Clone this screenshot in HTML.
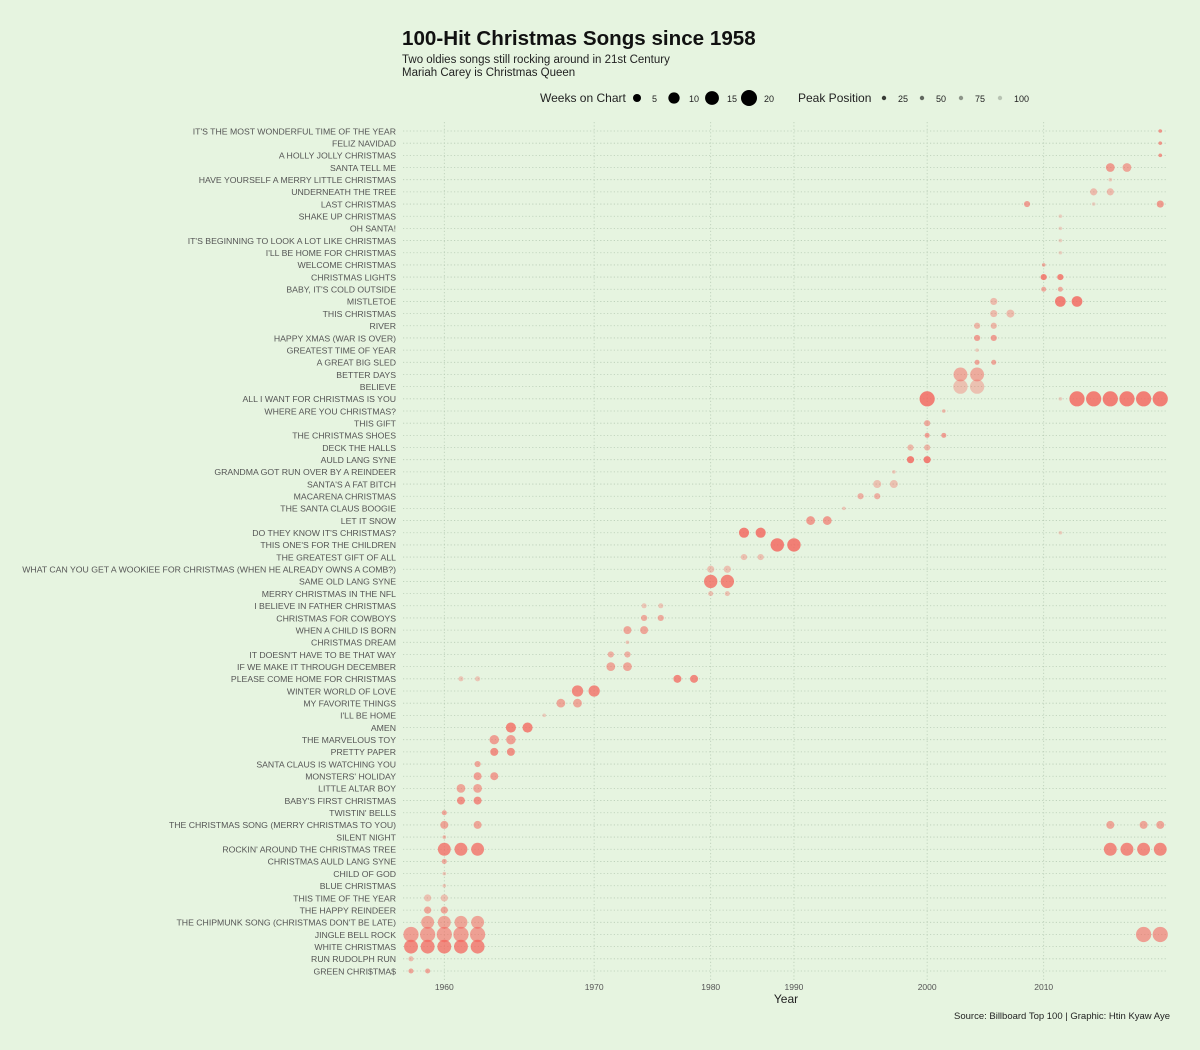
<!DOCTYPE html>
<html><head><meta charset="utf-8">
<style>
html,body{margin:0;padding:0;background:#e6f4e0;}
svg{display:block;font-family:"Liberation Sans",sans-serif;}
</style></head>
<body>
<svg id="chart" width="1200" height="1050" viewBox="0 0 1200 1050" xmlns="http://www.w3.org/2000/svg">
<rect x="0" y="0" width="1200" height="1050" fill="#e6f4e0"/>
<text x="402" y="45" font-size="20.6" font-weight="bold" fill="#111">100-Hit Christmas Songs since 1958</text>
<text x="402" y="63" font-size="11.5" fill="#222">Two oldies songs still rocking around in 21st Century</text>
<text x="402" y="76" font-size="11.5" fill="#222">Mariah Carey is Christmas Queen</text>
<g id="legend"></g>
<g id="grid"></g>
<g id="ylabels"></g>
<g id="xaxis"></g>
<g id="points"></g>
<text x="786" y="1003" font-size="12" fill="#222" text-anchor="middle">Year</text>
<text x="1170" y="1019" font-size="9.5" fill="#222" text-anchor="end">Source: Billboard Top 100 | Graphic: Htin Kyaw Aye</text>
</svg>
<script>
const songs = ["IT'S THE MOST WONDERFUL TIME OF THE YEAR","FELIZ NAVIDAD","A HOLLY JOLLY CHRISTMAS","SANTA TELL ME","HAVE YOURSELF A MERRY LITTLE CHRISTMAS","UNDERNEATH THE TREE","LAST CHRISTMAS","SHAKE UP CHRISTMAS","OH SANTA!","IT'S BEGINNING TO LOOK A LOT LIKE CHRISTMAS","I'LL BE HOME FOR CHRISTMAS","WELCOME CHRISTMAS","CHRISTMAS LIGHTS","BABY, IT'S COLD OUTSIDE","MISTLETOE","THIS CHRISTMAS","RIVER","HAPPY XMAS (WAR IS OVER)","GREATEST TIME OF YEAR","A GREAT BIG SLED","BETTER DAYS","BELIEVE","ALL I WANT FOR CHRISTMAS IS YOU","WHERE ARE YOU CHRISTMAS?","THIS GIFT","THE CHRISTMAS SHOES","DECK THE HALLS","AULD LANG SYNE","GRANDMA GOT RUN OVER BY A REINDEER","SANTA'S A FAT BITCH","MACARENA CHRISTMAS","THE SANTA CLAUS BOOGIE","LET IT SNOW","DO THEY KNOW IT'S CHRISTMAS?","THIS ONE'S FOR THE CHILDREN","THE GREATEST GIFT OF ALL","WHAT CAN YOU GET A WOOKIEE FOR CHRISTMAS (WHEN HE ALREADY OWNS A COMB?)","SAME OLD LANG SYNE","MERRY CHRISTMAS IN THE NFL","I BELIEVE IN FATHER CHRISTMAS","CHRISTMAS FOR COWBOYS","WHEN A CHILD IS BORN","CHRISTMAS DREAM","IT DOESN'T HAVE TO BE THAT WAY","IF WE MAKE IT THROUGH DECEMBER","PLEASE COME HOME FOR CHRISTMAS","WINTER WORLD OF LOVE","MY FAVORITE THINGS","I'LL BE HOME","AMEN","THE MARVELOUS TOY","PRETTY PAPER","SANTA CLAUS IS WATCHING YOU","MONSTERS' HOLIDAY","LITTLE ALTAR BOY","BABY'S FIRST CHRISTMAS","TWISTIN' BELLS","THE CHRISTMAS SONG (MERRY CHRISTMAS TO YOU)","SILENT NIGHT","ROCKIN' AROUND THE CHRISTMAS TREE","CHRISTMAS AULD LANG SYNE","CHILD OF GOD","BLUE CHRISTMAS","THIS TIME OF THE YEAR","THE HAPPY REINDEER","THE CHIPMUNK SONG (CHRISTMAS DON'T BE LATE)","JINGLE BELL ROCK","WHITE CHRISTMAS","RUN RUDOLPH RUN","GREEN CHRI$TMA$"];
const years = [1958,1959,1960,1961,1962,1963,1964,1965,1966,1968,1969,1970,1971,1972,1973,1974,1976,1979,1980,1981,1982,1983,1984,1990,1991,1992,1993,1994,1995,1996,1999,2000,2001,2002,2003,2004,2006,2008,2010,2011,2012,2013,2014,2015,2016,2017];
const xTicks = [1960,1970,1980,1990,2000,2010];
const sizeLegend = [5,10,15,20];
const peakLegend = [25,50,75,100];
// [songIndex, year, weeksOnChart, peakPosition]
const points = [
[0,2017,1,40],[1,2017,1,40],[2,2017,1,40],
[3,2014,6,45],[3,2015,6,55],
[4,2014,1,90],
[5,2013,4,75],[5,2014,4,75],
[6,2008,3,50],[6,2013,1,95],[6,2017,4,45],
[7,2011,1,95],[8,2011,1,95],[9,2011,1,95],[10,2011,1,95],
[11,2010,1,60],
[12,2010,3,25],[12,2011,3,25],
[13,2010,2,60],[13,2011,2,60],
[14,2004,4,75],[14,2011,9,20],[14,2012,9,20],
[15,2004,4,75],[15,2006,5,75],
[16,2003,3,70],[16,2004,3,70],
[17,2003,3,50],[17,2004,3,50],
[18,2003,1,90],
[19,2003,2,55],[19,2004,2,55],
[20,2002,15,60],[20,2003,15,60],
[21,2002,16,80],[21,2003,16,80],
[22,2000,18,20],[22,2011,1,95],[22,2012,18,20],[22,2013,18,20],[22,2014,18,20],[22,2015,18,20],[22,2016,18,20],[22,2017,18,20],
[23,2001,1,70],
[24,2000,3,60],
[25,2000,2,50],[25,2001,2,50],
[26,1999,3,70],[26,2000,3,70],
[27,1999,4,20],[27,2000,4,20],
[28,1996,1,85],
[29,1995,5,80],[29,1996,5,80],
[30,1994,3,65],[30,1995,3,65],
[31,1993,1,85],
[32,1991,6,45],[32,1992,6,45],
[33,1982,8,20],[33,1983,8,20],[33,2011,1,90],
[34,1984,14,20],[34,1990,14,20],
[35,1982,3,80],[35,1983,3,80],
[36,1980,4,80],[36,1981,4,80],
[37,1980,14,25],[37,1981,14,25],
[38,1980,2,80],[38,1981,2,80],
[39,1973,2,85],[39,1974,2,85],
[40,1973,3,60],[40,1974,3,60],
[41,1972,5,55],[41,1973,5,55],
[42,1972,1,85],
[43,1971,3,65],[43,1972,3,65],
[44,1971,6,55],[44,1972,6,55],
[45,1961,2,85],[45,1962,2,85],[45,1976,5,30],[45,1979,5,30],
[46,1969,10,30],[46,1970,10,30],
[47,1968,6,55],[47,1969,6,55],
[48,1966,1,90],
[49,1964,8,25],[49,1965,8,25],
[50,1963,7,50],[50,1964,7,50],
[51,1963,5,35],[51,1964,5,35],
[52,1962,3,55],
[53,1962,5,50],[53,1963,5,50],
[54,1961,6,55],[54,1962,6,55],
[55,1961,5,35],[55,1962,5,35],
[56,1960,2,55],
[57,1960,5,55],[57,1962,5,55],[57,2014,5,55],[57,2016,5,55],[57,2017,5,55],
[58,1960,1,70],
[59,1960,13,30],[59,1961,13,30],[59,1962,13,30],[59,2014,13,30],[59,2015,13,30],[59,2016,13,30],[59,2017,13,30],
[60,1960,2,60],
[61,1960,1,85],[62,1960,1,85],
[63,1959,4,80],[63,1960,4,80],
[64,1959,4,55],[64,1960,4,55],
[65,1959,13,55],[65,1960,13,55],[65,1961,13,55],[65,1962,13,55],
[66,1958,18,50],[66,1959,18,50],[66,1960,18,50],[66,1961,18,50],[66,1962,18,50],[66,2016,18,50],[66,2017,18,50],
[67,1958,15,30],[67,1959,15,30],[67,1960,15,30],[67,1961,15,30],[67,1962,15,30],
[68,1958,2,75],
[69,1958,2,55],[69,1959,2,55]
];

const NS = "http://www.w3.org/2000/svg";
const X0 = 411, XSTEP = 16.65, Y0 = 131, Y1 = 971;
const PX0 = 403, PX1 = 1168;
function xScale(yr){ return X0 + years.indexOf(yr) * XSTEP; }
function yScale(i){ return Y0 + i * (Y1 - Y0) / (songs.length - 1); }
function rScale(w){ return 8 * Math.sqrt(w / 20); }
function aScale(p){ return Math.max(0.12, 0.95 - 0.0075 * p); }
function mk(tag, attrs, parent){ const e = document.createElementNS(NS, tag); for (const k in attrs) e.setAttribute(k, attrs[k]); parent.appendChild(e); return e; }

const grid = document.getElementById('grid');
songs.forEach((s, i) => {
  const l = mk('line', {x1: PX0, x2: PX1, y1: yScale(i), y2: yScale(i), stroke: '#b9cdb6', 'stroke-width': 0.8, 'stroke-dasharray': '1.2 2.2'}, grid);
  
  
});
xTicks.forEach(t => {
  const l = mk('line', {x1: xScale(t), x2: xScale(t), y1: 122, y2: 980, stroke: '#b9cdb6', 'stroke-width': 0.8, 'stroke-dasharray': '1.2 2.2'}, grid);
  
  
});

const yl = document.getElementById('ylabels');
songs.forEach((s, i) => {
  const t = mk('text', {x: 396, y: yScale(i) + 3.3, 'font-size': 8.7, fill: '#555', 'text-anchor': 'end'}, yl);
  t.textContent = s;
  
  
});

const xa = document.getElementById('xaxis');
xTicks.forEach(t => {
  const e = mk('text', {x: xScale(t), y: 990, 'font-size': 8.5, fill: '#555', 'text-anchor': 'middle'}, xa);
  e.textContent = t;
  
  
});

const pg = document.getElementById('points');
points.forEach(p => {
  const c = mk('circle', {cx: xScale(p[1]), cy: yScale(p[0]), r: rScale(p[2]), fill: '#f4625a', 'fill-opacity': aScale(p[3])}, pg);
  
  
});

const lg = document.getElementById('legend');
let t = mk('text', {x: 540, y: 102, 'font-size': 12, fill: '#222'}, lg);
t.textContent = 'Weeks on Chart';


const sizeX = [637, 674, 712, 749];
sizeLegend.forEach((w, i) => {
  const c = mk('circle', {cx: sizeX[i], cy: 98, r: rScale(w), fill: '#000'}, lg);
  
  
  const e = mk('text', {x: sizeX[i] + 15, y: 102, 'font-size': 9, fill: '#222'}, lg);
  e.textContent = w;
  
  
});
t = mk('text', {x: 798, y: 102, 'font-size': 12, fill: '#222'}, lg);
t.textContent = 'Peak Position';


const peakX = [884, 922, 961, 1000];
peakLegend.forEach((p, i) => {
  const c = mk('circle', {cx: peakX[i], cy: 98, r: 2.2, fill: '#000', 'fill-opacity': aScale(p)}, lg);
  
  
  const e = mk('text', {x: peakX[i] + 14, y: 102, 'font-size': 9, fill: '#222'}, lg);
  e.textContent = p;
  
  
});
</script>
</body></html>
